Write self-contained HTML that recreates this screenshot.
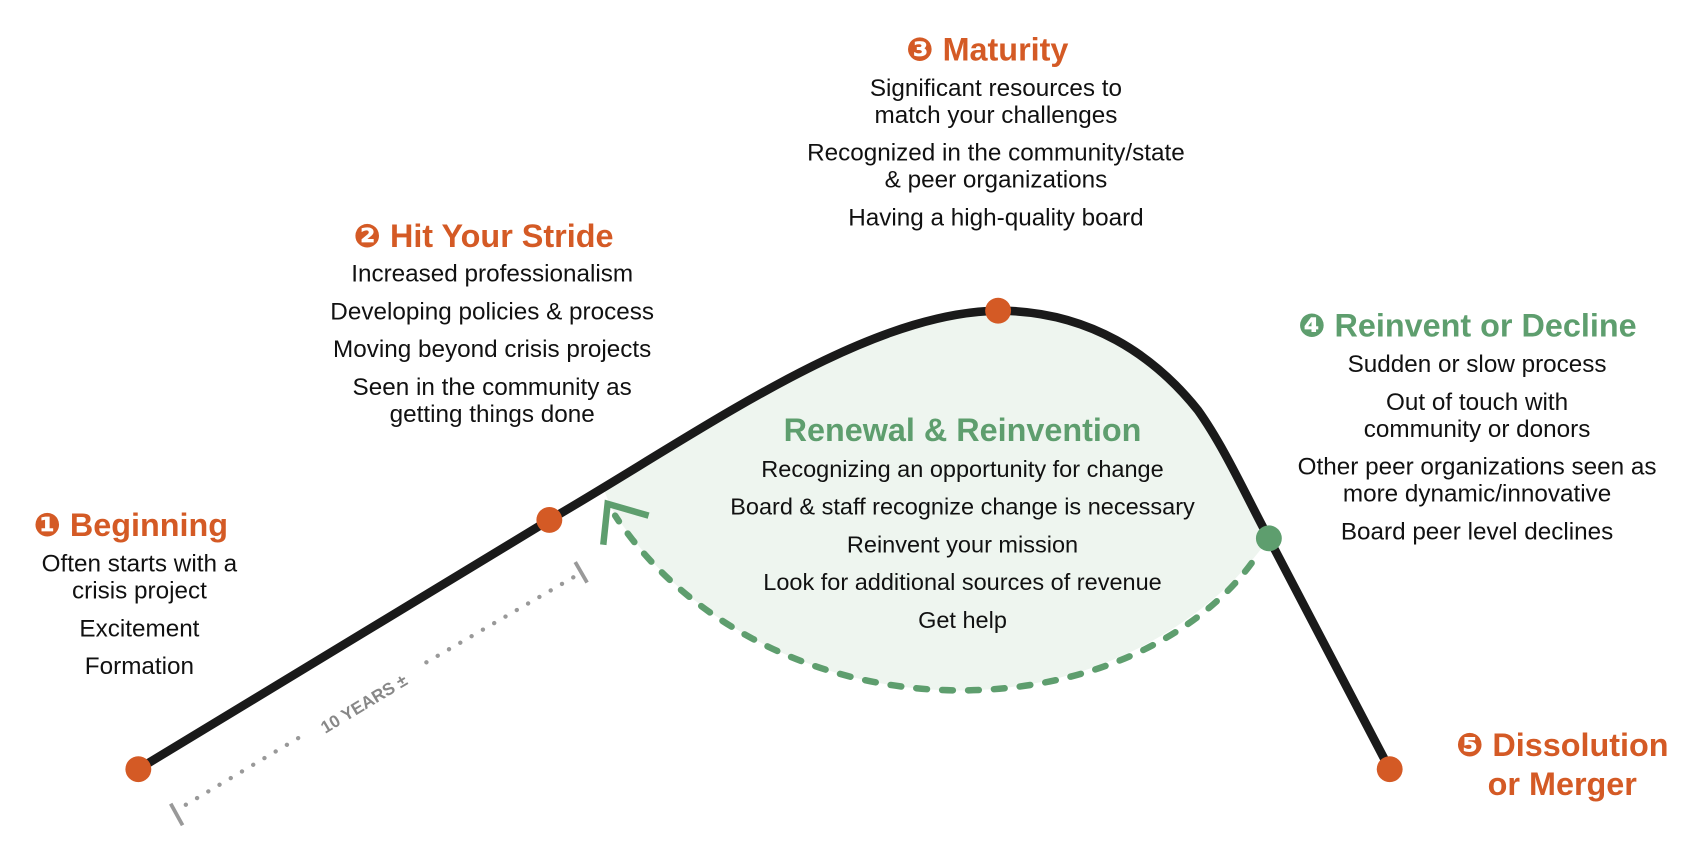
<!DOCTYPE html>
<html><head><meta charset="utf-8"><style>
html,body{margin:0;padding:0;background:#fff;}
svg{display:block;}
text{font-family:"Liberation Sans","DejaVu Sans",sans-serif;}
.h{font-weight:bold;font-size:30px;fill:#d45a25;}
.g{font-weight:bold;font-size:30px;fill:#5e9e6e;}
.b{font-size:22.5px;fill:#111;text-anchor:middle;}
.r{font-size:21.8px;fill:#111;text-anchor:middle;}
</style></head><body>
<svg width="1692" height="863" viewBox="0 0 1568 800" xmlns="http://www.w3.org/2000/svg">
<path d="M560,455 C700,370 830,290 925,288 C1010,288 1070,330 1110,380 C1135,415 1155,460 1176,499 C1120,580 1010,640 890,640 C740,640 620,560 566,470 Z" fill="#eef5ef"/>
<path d="M1160,522 C1110,590 1010,640 890,640 C750,640 630,570 570,478" fill="none" stroke="#5e9e6e" stroke-width="6" stroke-dasharray="10 14" stroke-linecap="round"/>
<path d="M559,505 L563,467 L601,478" fill="none" stroke="#5e9e6e" stroke-width="6"/>
<path d="M128,713 L509,482 C650,400 800,290 925,288 C1010,288 1070,330 1110,380 C1135,415 1155,460 1176,499 L1288,713" fill="none" stroke="#1a1a1a" stroke-width="8" stroke-linejoin="round"/>
<circle cx="128" cy="713" r="12" fill="#d45a25"/>
<circle cx="509" cy="482" r="12" fill="#d45a25"/>
<circle cx="925" cy="288" r="12" fill="#d45a25"/>
<circle cx="1176" cy="499" r="12" fill="#5e9e6e"/>
<circle cx="1288" cy="713" r="12" fill="#d45a25"/>
<line x1="172" y1="746" x2="285" y2="679" stroke="#999" stroke-width="4" stroke-dasharray="0.1 12" stroke-linecap="round"/>
<line x1="395" y1="614" x2="535" y2="533" stroke="#999" stroke-width="4" stroke-dasharray="0.1 12" stroke-linecap="round"/>
<line x1="158" y1="745" x2="169" y2="765" stroke="#999" stroke-width="3.5"/>
<line x1="533" y1="521" x2="544" y2="540" stroke="#999" stroke-width="3.5"/>
<text x="340" y="657" transform="rotate(-31 340 657)" text-anchor="middle" font-size="16" font-weight="bold" fill="#888">10 YEARS ±</text>
<text x="915" y="56" class="h" text-anchor="middle">❸ Maturity</text>
<text class="b" x="923" y="89">Significant resources to</text>
<text class="b" x="923" y="114">match your challenges</text>
<text class="b" x="923" y="149">Recognized in the community/state</text>
<text class="b" x="923" y="174">&amp; peer organizations</text>
<text class="b" x="923" y="209">Having a high-quality board</text>
<text x="448" y="229" class="h" text-anchor="middle">❷ Hit Your Stride</text>
<text class="b" x="456" y="261">Increased professionalism</text>
<text class="b" x="456" y="296">Developing policies &amp; process</text>
<text class="b" x="456" y="331">Moving beyond crisis projects</text>
<text class="b" x="456" y="366">Seen in the community as</text>
<text class="b" x="456" y="391">getting things done</text>
<text x="121" y="497" class="h" text-anchor="middle">❶ Beginning</text>
<text class="b" x="129" y="530">Often starts with a</text>
<text class="b" x="129" y="555">crisis project</text>
<text class="b" x="129" y="590">Excitement</text>
<text class="b" x="129" y="625">Formation</text>
<text x="892" y="409" class="g" text-anchor="middle">Renewal &amp; Reinvention</text>
<text class="r" x="892" y="442">Recognizing an opportunity for change</text>
<text class="r" x="892" y="477">Board &amp; staff recognize change is necessary</text>
<text class="r" x="892" y="512">Reinvent your mission</text>
<text class="r" x="892" y="547">Look for additional sources of revenue</text>
<text class="r" x="892" y="582">Get help</text>
<text x="1360" y="312" class="g" text-anchor="middle">❹ Reinvent or Decline</text>
<text class="b" x="1369" y="345">Sudden or slow process</text>
<text class="b" x="1369" y="380">Out of touch with</text>
<text class="b" x="1369" y="405">community or donors</text>
<text class="b" x="1369" y="440">Other peer organizations seen as</text>
<text class="b" x="1369" y="465">more dynamic/innovative</text>
<text class="b" x="1369" y="500">Board peer level declines</text>
<text x="1448" y="701" class="h" text-anchor="middle">❺ Dissolution</text>
<text x="1448" y="737" class="h" text-anchor="middle">or Merger</text>
</svg>
</body></html>
